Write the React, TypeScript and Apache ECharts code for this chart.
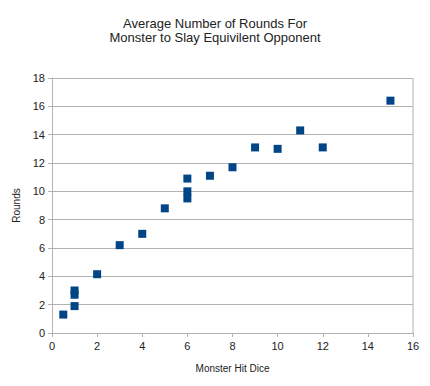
import React, { useEffect, useRef } from "react";
import * as echarts from "echarts";

const hitDice = [0.5, 1, 1, 1, 2, 3, 4, 5, 6, 6, 6, 7, 8, 9, 10, 11, 12, 15];
const rounds = [1.3, 1.9, 2.7, 3.0, 4.15, 6.2, 7.0, 8.8, 10.9, 10.0, 9.5, 11.1, 11.7, 13.1, 13.0, 14.3, 13.1, 16.4];

export default function App() {
  const ref = useRef<HTMLDivElement>(null);
  useEffect(() => {
    const chart = echarts.init(ref.current!, null, { renderer: "svg" });
    const font = "'Liberation Sans', Arial, sans-serif";
    chart.setOption({
      animation: false,
      backgroundColor: "#ffffff",
      title: {
        text: "Average Number of Rounds For\nMonster to Slay Equivilent Opponent",
        left: "center",
        top: 11,
        textStyle: { fontFamily: font, fontSize: 13, fontWeight: "normal", color: "#222", lineHeight: 14 },
      },
      grid: { left: 52, right: 17, top: 78, bottom: 53 },
      xAxis: {
        type: "value",
        min: 0,
        max: 16,
        interval: 2,
        name: "Monster Hit Dice",
        nameLocation: "middle",
        nameGap: 30,
        nameTextStyle: { fontFamily: font, fontSize: 10, color: "#222" },
        axisLine: { show: true, lineStyle: { color: "#b3b3b3" } },
        axisTick: { show: true, length: 4, lineStyle: { color: "#b3b3b3" } },
        axisLabel: { fontFamily: font, fontSize: 11, color: "#222", margin: 7 },
        splitLine: { show: false },
      },
      yAxis: {
        type: "value",
        min: 0,
        max: 18,
        interval: 2,
        name: "Rounds",
        nameLocation: "middle",
        nameGap: 26,
        nameTextStyle: { fontFamily: font, fontSize: 10, color: "#222" },
        axisLine: { show: true, lineStyle: { color: "#b3b3b3" } },
        axisTick: { show: true, length: 4, lineStyle: { color: "#b3b3b3" } },
        axisLabel: { fontFamily: font, fontSize: 11, color: "#222", margin: 7 },
        splitLine: { show: true, lineStyle: { color: "#b3b3b3" } },
      },
      series: [
        {
          type: "scatter",
          symbol: "rect",
          symbolSize: 8,
          itemStyle: { color: "#004586", opacity: 1 },
          data: hitDice.map((x, i) => [x, rounds[i]]),
        },
        {
          type: "line",
          data: [[16, 0], [16, 18]],
          symbol: "none",
          lineStyle: { color: "#b3b3b3", width: 1 },
          silent: true,
        },
      ],
    });
    return () => chart.dispose();
  }, []);
  return <div ref={ref} style={{ width: 430, height: 386, margin: -8 }} />;
}
